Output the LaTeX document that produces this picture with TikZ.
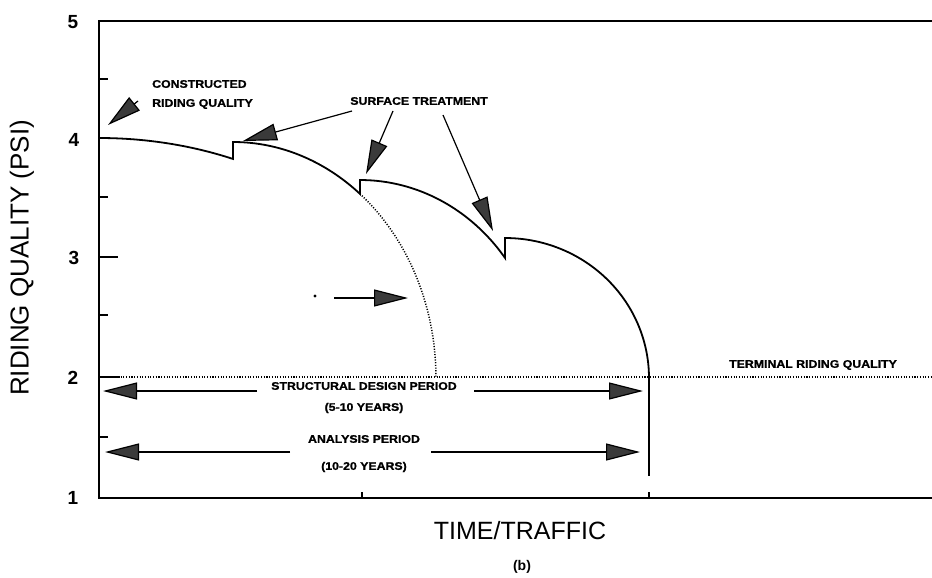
\documentclass[tikz,border=0pt]{standalone}
\usepackage{fontspec}
\setmainfont{Liberation Sans}
\newfontfamily\lab[FakeStretch=1.12,FakeBold=1.2]{Liberation Sans}
\usetikzlibrary{arrows.meta}
\definecolor{headgray}{HTML}{3A3A3A}
\begin{document}
\begin{tikzpicture}[x=1pt,y=-1pt,
  axis/.style={line width=1.8pt},
  curve/.style={line width=1.8pt, line join=miter},
  ticks/.style={line width=1.4pt},
  dotline/.style={line width=1.1pt, dash pattern=on 1.1pt off 1.6pt},
  bigarrow/.style={line width=1.2pt, -{Triangle[length=34pt,width=17pt,fill=headgray]}},
  lbl/.style={font=\lab\bfseries\fontsize{11}{12}\selectfont, inner sep=0pt},
  num/.style={font=\bfseries\fontsize{19}{20}\selectfont, inner sep=0pt}]
\useasboundingbox (0,0) rectangle (932,578);
% frame
\coordinate (tl) at (99,21);
\coordinate (tr) at (932,21);
\coordinate (bl) at (99,498);
\coordinate (br) at (932,498);
\draw[axis] (tr) -- (tl) -- (bl) -- (br);
% y ticks
\foreach \yy/\len in {79/9,197/9,257/19,315/9,377/21,437/9}
  \draw[ticks] (99,\yy) -- ++(\len,0);
% x ticks
\draw[ticks] (362,498) -- (362,492);
\draw[ticks] (649,498) -- (649,492);
% axis numbers
\node[num] (n5) at (73,22) {5};
\node[num] (n4) at (74,140) {4};
\node[num] (n3) at (74,258) {3};
\node[num] (n2) at (73,378) {2};
\node[num] (n1) at (73,498) {1};
% axis titles
\node[rotate=90, font=\fontsize{26}{28}\selectfont, inner sep=0pt] (ylab) at (22,258) {RIDING QUALITY (PSI)};
\node[font=\fontsize{25}{27}\selectfont, inner sep=0pt] (xlab) at (520,531) {TIME/TRAFFIC};
\node[font=\bfseries\fontsize{14}{16}\selectfont, inner sep=0pt] (cap) at (522,567) {(b)};
% terminal line
\draw[dotline] (99,377) -- (932,377);
% riding quality curve
\draw[curve] plot[domain=90:65.9, samples=40] ({99+328*cos(\x)},{378-240*sin(\x)})
  -- (233,142)
  -- plot[domain=90:51.3, samples=40] ({233+203*cos(\x)},{378-236*sin(\x)})
  -- (360,180)
  -- plot[domain=90:37.3, samples=40] ({360+182.4*cos(\x)},{378-198*sin(\x)})
  -- (505,238)
  -- plot[domain=90:0, samples=60] ({505+144*cos(\x)},{378-140*sin(\x)});
\draw[dotline, line width=1.5pt] plot[domain=51.3:0, samples=40] ({233+203*cos(\x)},{378-236*sin(\x)});
\coordinate (endtop) at (649,378);
\coordinate (endbot) at (649,476);
\draw[line width=1.3pt] (endtop) -- (endbot);
% labels
\node[lbl, anchor=west] (c1) at (152,84) {CONSTRUCTED};
\node[lbl, anchor=west] (c2) at (152,104) {RIDING QUALITY};
\node[lbl] (st) at (419,101) {SURFACE TREATMENT};
\node[lbl] (sd) at (364,386) {STRUCTURAL DESIGN PERIOD};
\node[lbl] (sdy) at (364,408) {(5-10 YEARS)};
\node[lbl] (ap) at (364,439) {ANALYSIS PERIOD};
\node[lbl] (apy) at (364,467) {(10-20 YEARS)};
\node[lbl] (trq) at (813,365) {TERMINAL RIDING QUALITY};
% arrow end points
\coordinate (crS) at (138,101);
\coordinate (crT) at (108,125);
\coordinate (s1S) at (352,111);
\coordinate (s1T) at (243,141);
\coordinate (s2S) at (393,111);
\coordinate (s2T) at (366,174);
\coordinate (s3S) at (443,115);
\coordinate (s3T) at (493,231);
\coordinate (mS) at (334,298);
\coordinate (mT) at (408,298);
\coordinate (sdLS) at (257,391);
\coordinate (sdLT) at (103,391);
\coordinate (sdRS) at (474,391);
\coordinate (sdRT) at (643,391);
\coordinate (apLS) at (290,452);
\coordinate (apLT) at (105,452);
\coordinate (apRS) at (431,452);
\coordinate (apRT) at (640,452);
% arrows
\draw[bigarrow] (crS) -- (crT);
\draw[bigarrow] (s1S) -- (s1T);
\draw[bigarrow] (s2S) -- (s2T);
\draw[bigarrow] (s3S) -- (s3T);
\draw[bigarrow] (mS) -- (mT);
\draw[bigarrow] (sdLS) -- (sdLT);
\draw[bigarrow] (sdRS) -- (sdRT);
\draw[bigarrow] (apLS) -- (apLT);
\draw[bigarrow] (apRS) -- (apRT);
% dot
\fill (315,296) circle[radius=1.6];
\end{tikzpicture}
\end{document}
